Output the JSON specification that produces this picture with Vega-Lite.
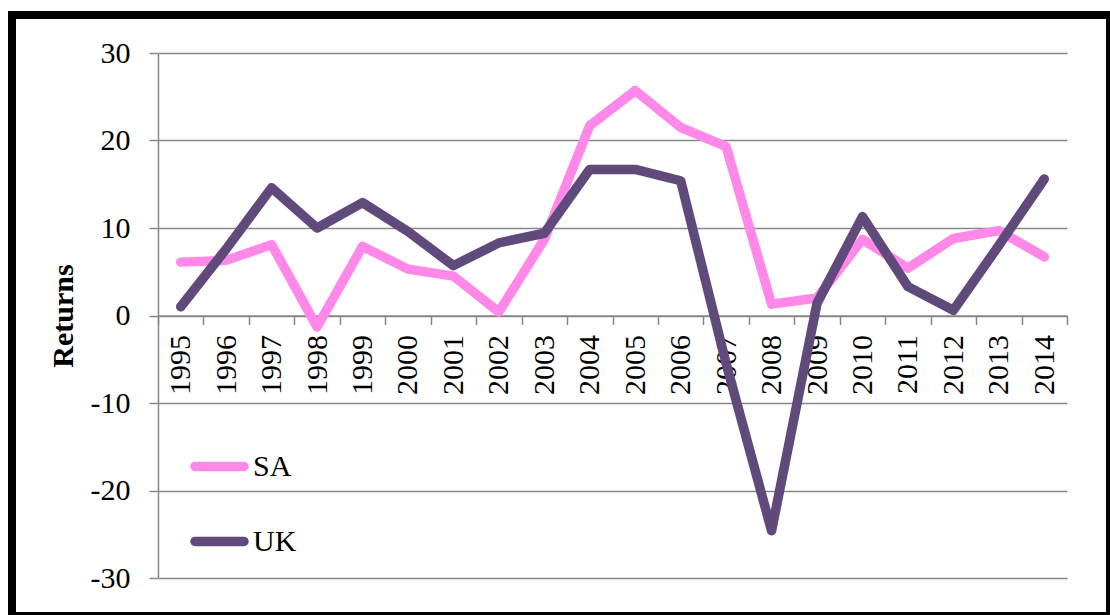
{
  "$schema": "https://vega.github.io/schema/vega-lite/v6.json",
  "width": 909,
  "height": 525,
  "padding": {"left": 8, "top": 11, "right": 0, "bottom": 0},
  "autosize": {"type": "pad"},
  "background": "white",
  "config": {
    "view": {"stroke": null},
    "font": "Liberation Serif"
  },
  "datasets": {
    "returns": [
      {"Year": 1995, "Series": "SA", "Returns": 6.1},
      {"Year": 1996, "Series": "SA", "Returns": 6.3},
      {"Year": 1997, "Series": "SA", "Returns": 8.1},
      {"Year": 1998, "Series": "SA", "Returns": -1.3},
      {"Year": 1999, "Series": "SA", "Returns": 7.9},
      {"Year": 2000, "Series": "SA", "Returns": 5.3},
      {"Year": 2001, "Series": "SA", "Returns": 4.5},
      {"Year": 2002, "Series": "SA", "Returns": 0.4},
      {"Year": 2003, "Series": "SA", "Returns": 8.7},
      {"Year": 2004, "Series": "SA", "Returns": 21.7},
      {"Year": 2005, "Series": "SA", "Returns": 25.7},
      {"Year": 2006, "Series": "SA", "Returns": 21.5},
      {"Year": 2007, "Series": "SA", "Returns": 19.3},
      {"Year": 2008, "Series": "SA", "Returns": 1.3},
      {"Year": 2009, "Series": "SA", "Returns": 2.0},
      {"Year": 2010, "Series": "SA", "Returns": 8.7},
      {"Year": 2011, "Series": "SA", "Returns": 5.4},
      {"Year": 2012, "Series": "SA", "Returns": 8.8},
      {"Year": 2013, "Series": "SA", "Returns": 9.7},
      {"Year": 2014, "Series": "SA", "Returns": 6.7},
      {"Year": 1995, "Series": "UK", "Returns": 1.0},
      {"Year": 1996, "Series": "UK", "Returns": 7.6},
      {"Year": 1997, "Series": "UK", "Returns": 14.6},
      {"Year": 1998, "Series": "UK", "Returns": 10.0},
      {"Year": 1999, "Series": "UK", "Returns": 12.9},
      {"Year": 2000, "Series": "UK", "Returns": 9.6},
      {"Year": 2001, "Series": "UK", "Returns": 5.7},
      {"Year": 2002, "Series": "UK", "Returns": 8.3},
      {"Year": 2003, "Series": "UK", "Returns": 9.4},
      {"Year": 2004, "Series": "UK", "Returns": 16.7},
      {"Year": 2005, "Series": "UK", "Returns": 16.7},
      {"Year": 2006, "Series": "UK", "Returns": 15.4},
      {"Year": 2007, "Series": "UK", "Returns": -5.5},
      {"Year": 2008, "Series": "UK", "Returns": -24.6},
      {"Year": 2009, "Series": "UK", "Returns": 1.4},
      {"Year": 2010, "Series": "UK", "Returns": 11.3},
      {"Year": 2011, "Series": "UK", "Returns": 3.3},
      {"Year": 2012, "Series": "UK", "Returns": 0.6},
      {"Year": 2013, "Series": "UK", "Returns": 8.0},
      {"Year": 2014, "Series": "UK", "Returns": 15.6}
    ]
  },
  "layer": [
    {
      "data": {"values": [{}]},
      "mark": {"type": "rect", "fill": "black", "stroke": null},
      "encoding": {
        "x": {"datum": 1991.1997, "type": "quantitative", "scale": {"domain": [1994.5, 2014.5], "nice": false, "zero": false}, "axis": null},
        "x2": {"datum": 1991.3757},
        "y": {"datum": 34.8, "type": "quantitative", "scale": {"domain": [-30, 30], "nice": false, "zero": false}},
        "y2": {"datum": -34.229}
      }
    },
    {
      "data": {"values": [{}]},
      "mark": {"type": "rect", "fill": "black", "stroke": null},
      "encoding": {
        "x": {"datum": 1991.1997, "type": "quantitative", "scale": {"domain": [1994.5, 2014.5], "nice": false, "zero": false}, "axis": null},
        "x2": {"datum": 2015.446},
        "y": {"datum": 34.8, "type": "quantitative", "scale": {"domain": [-30, 30], "nice": false, "zero": false}},
        "y2": {"datum": 33.886}
      }
    },
    {
      "data": {"values": [{}]},
      "mark": {"type": "rect", "fill": "black", "stroke": null},
      "encoding": {
        "x": {"datum": 2015.358, "type": "quantitative", "scale": {"domain": [1994.5, 2014.5], "nice": false, "zero": false}, "axis": null},
        "x2": {"datum": 2015.446},
        "y": {"datum": 34.8, "type": "quantitative", "scale": {"domain": [-30, 30], "nice": false, "zero": false}},
        "y2": {"datum": -34.229}
      }
    },
    {
      "data": {"values": [{}]},
      "mark": {"type": "rect", "fill": "black", "stroke": null},
      "encoding": {
        "x": {"datum": 1991.1997, "type": "quantitative", "scale": {"domain": [1994.5, 2014.5], "nice": false, "zero": false}, "axis": null},
        "x2": {"datum": 2015.446},
        "y": {"datum": -33.886, "type": "quantitative", "scale": {"domain": [-30, 30], "nice": false, "zero": false}},
        "y2": {"datum": -34.229}
      }
    },
    {
      "data": {"name": "returns"},
      "mark": {"type": "point", "opacity": 0},
      "encoding": {
        "x": {
          "field": "Year", "type": "quantitative",
          "scale": {"domain": [1994.5, 2014.5], "nice": false, "zero": false},
          "axis": {
            "orient": "bottom", "offset": -262.5,
            "values": [1994.5, 1995.5, 1996.5, 1997.5, 1998.5, 1999.5, 2000.5, 2001.5, 2002.5, 2003.5, 2004.5, 2005.5, 2006.5, 2007.5, 2008.5, 2009.5, 2010.5, 2011.5, 2012.5, 2013.5, 2014.5],
            "labels": false, "ticks": true, "tickSize": 9, "tickColor": "#888888", "tickWidth": 1.5,
            "domain": false, "grid": false, "title": null
          }
        },
        "y": {"field": "Returns", "type": "quantitative", "scale": {"domain": [-30, 30], "nice": false, "zero": false}}
      }
    },
    {
      "data": {"name": "returns"},
      "mark": {"type": "line", "strokeWidth": 9.5, "strokeCap": "round", "strokeJoin": "round"},
      "encoding": {
        "x": {
          "field": "Year", "type": "quantitative",
          "scale": {"domain": [1994.5, 2014.5], "nice": false, "zero": false},
          "axis": {
            "orient": "bottom", "offset": -262.5,
            "values": [1995, 1996, 1997, 1998, 1999, 2000, 2001, 2002, 2003, 2004, 2005, 2006, 2007, 2008, 2009, 2010, 2011, 2012, 2013, 2014],
            "format": "d", "labelAngle": -90, "ticks": false, "tickSize": 0, "labelPadding": 19,
            "labelFont": "Liberation Serif", "labelFontSize": 30, "labelColor": "black",
            "domain": true, "domainColor": "#888888", "domainWidth": 1.5,
            "grid": false, "title": null, "labelOverlap": false, "labelFlush": false
          }
        },
        "y": {
          "field": "Returns", "type": "quantitative",
          "scale": {"domain": [-30, 30], "nice": false, "zero": false},
          "axis": {
            "title": "Returns", "titleFont": "Liberation Serif", "titleFontSize": 30, "titleFontWeight": "bold", "titleColor": "black", "titlePadding": 12,
            "values": [-30, -20, -10, 0, 10, 20, 30],
            "labelExpr": "'' + datum.value",
            "grid": true, "gridColor": "#888888", "gridWidth": 1.5,
            "domain": true, "domainColor": "#888888", "domainWidth": 1.5,
            "ticks": true, "tickSize": 9, "tickColor": "#888888", "tickWidth": 1.5,
            "labelPadding": 19, "labelFont": "Liberation Serif", "labelFontSize": 30, "labelColor": "black",
            "labelOverlap": false, "labelFlush": false
          }
        },
        "color": {
          "field": "Series", "type": "nominal",
          "scale": {"domain": ["SA", "UK"], "range": ["#FF88E8", "#604A7B"]},
          "legend": {
            "orient": "none", "legendX": 32, "legendY": 384, "title": null,
            "symbolType": "stroke", "symbolStrokeWidth": 9.5, "symbolSize": 2401,
            "labelFont": "Liberation Serif", "labelFontSize": 30, "labelColor": "black",
            "labelOffset": 4, "rowPadding": 26, "padding": 0,
            "encode": {"symbols": {"update": {"strokeCap": {"value": "round"}}}}
          }
        }
      }
    }
  ],
  "resolve": {"axis": {"x": "independent"}}
}
